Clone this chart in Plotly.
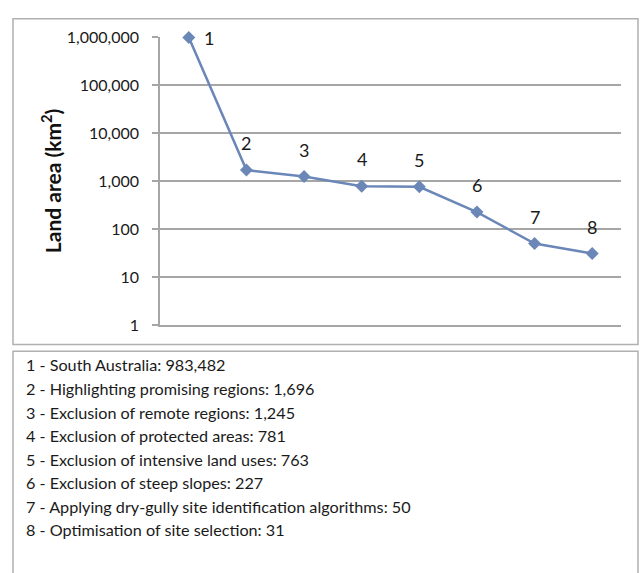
import plotly.graph_objects as go
import math

steps = [1, 2, 3, 4, 5, 6, 7, 8]
step_names = [
    "South Australia",
    "Highlighting promising regions",
    "Exclusion of remote regions",
    "Exclusion of protected areas",
    "Exclusion of intensive land uses",
    "Exclusion of steep slopes",
    "Applying dry-gully site identification algorithms",
    "Optimisation of site selection",
]
land_area = [983482, 1696, 1245, 781, 763, 227, 50, 31]
tick_values = [1, 10, 100, 1000, 10000, 100000, 1000000]
tick_labels = ["1", "10", "100", "1,000", "10,000", "100,000", "1,000,000"]

W, H = 641, 573
FONT = "Lato, 'Open Sans', sans-serif"
LINE = "#6b87b8"
GRID = "#a6a6a6"
TXT = "#1a1a1a"

def px(x):
    return x / W

def py(y):
    return (H - y) / H

fig = go.Figure()
fig.add_trace(go.Scatter(
    x=steps, y=land_area, mode="lines+markers",
    line=dict(color=LINE, width=2.5),
    marker=dict(symbol="diamond", size=10, color=LINE),
    cliponaxis=False,
    hoverinfo="skip", showlegend=False,
))

annotations = []
for i, (s, v) in enumerate(zip(steps, land_area)):
    if i == 0:
        annotations.append(dict(x=s, y=math.log10(v), xref="x", yref="y", text=str(s),
                                showarrow=False, xshift=20, yshift=-1,
                                xanchor="center", yanchor="middle",
                                font=dict(family=FONT, size=18, color=TXT)))
    else:
        annotations.append(dict(x=s, y=math.log10(v), xref="x", yref="y", text=str(s),
                                showarrow=False, yshift=27,
                                xanchor="center", yanchor="middle",
                                font=dict(family=FONT, size=18, color=TXT)))

annotations.append(dict(x=px(51), y=py(177), xref="paper", yref="paper",
                        xanchor="center", yanchor="middle",
                        text="<b>Land area (km<sup>2</sup>)</b>", textangle=-90,
                        showarrow=False, font=dict(family=FONT, size=21, color="#111")))

y0 = 367
for i, (s, n, v) in enumerate(zip(steps, step_names, land_area)):
    annotations.append(dict(x=px(24), y=py(y0 + i * 24.4), xref="paper", yref="paper",
                            xanchor="left", yanchor="middle",
                            text=f"{s} - {n}: {v:,}", showarrow=False,
                            font=dict(family=FONT, size=16.2, color=TXT)))

shapes = [
    dict(type="rect", xref="paper", yref="paper", x0=px(13), x1=px(638), y0=py(346), y1=py(9),
         line=dict(color="#b0b0b0", width=1.5), fillcolor="rgba(0,0,0,0)", layer="below"),
    dict(type="rect", xref="paper", yref="paper", x0=px(13), x1=px(638), y0=-0.05, y1=py(353),
         line=dict(color="#b0b0b0", width=1.5), fillcolor="rgba(0,0,0,0)", layer="below"),
]

fig.update_layout(
    width=W, height=H, margin=dict(l=0, r=0, t=0, b=0),
    paper_bgcolor="white", plot_bgcolor="white",
    annotations=annotations, shapes=shapes,
    xaxis=dict(domain=[px(160), px(621)], range=[0.5, 8.5], showticklabels=False,
               showgrid=False, zeroline=False, showline=True, linecolor=GRID, linewidth=1.5,
               ticks=""),
    yaxis=dict(domain=[py(326), py(28)], type="log", range=[0, 6],
               tickvals=tick_values, ticktext=tick_labels,
               showgrid=True, gridcolor=GRID, gridwidth=1.5,
               showline=True, linecolor=GRID, linewidth=1.5,
               ticks="outside", ticklen=6, tickcolor=GRID, tickwidth=1.5,
               ticklabelstandoff=10,
               tickfont=dict(family=FONT, size=16, color=TXT), zeroline=False),
)

fig.write_html("out.html", config={"displayModeBar": False},
               post_script="document.body.style.margin='0';document.body.style.overflow='hidden';")
